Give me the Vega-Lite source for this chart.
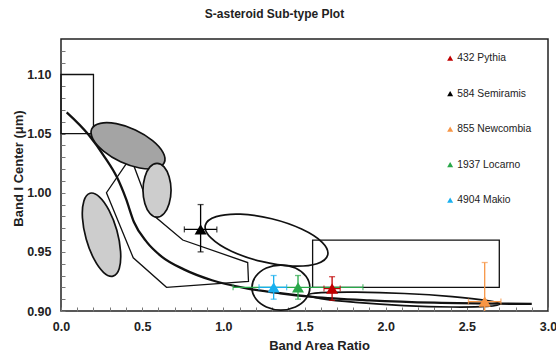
{
  "$schema": "https://vega.github.io/schema/vega-lite/v6.json",
  "width": 487,
  "height": 272,
  "autosize": "none",
  "padding": {"left": 61, "top": 39, "right": 8, "bottom": 42},
  "background": "white",
  "title": {"text": "S-asteroid Sub-type Plot", "fontSize": 12, "font": "Liberation Sans", "fontWeight": "bold", "color": "#222", "anchor": "middle", "frame": "group", "dx": -30, "offset": 18},
  "config": {"view": {"stroke": "#222", "strokeWidth": 1.5}, "font": "Liberation Sans"},
  "datasets": {
    "rects": [
      {"x": 0, "x2": 0.2, "y": 1.05, "y2": 1.10},
      {"x": 1.55, "x2": 2.70, "y": 0.92, "y2": 0.96}
    ],
    "poly": [
      {"i": 0, "x": 0.41, "y": 1.026},
      {"i": 1, "x": 0.28, "y": 1.000},
      {"i": 2, "x": 0.445, "y": 0.945},
      {"i": 3, "x": 0.65, "y": 0.920},
      {"i": 4, "x": 1.155, "y": 0.925},
      {"i": 5, "x": 1.15, "y": 0.941},
      {"i": 6, "x": 0.75, "y": 0.960},
      {"i": 7, "x": 0.56, "y": 0.982},
      {"i": 8, "x": 0.44, "y": 1.026}
    ],
    "curve": [
      {"i": 0, "x": 0.035, "y": 1.068},
      {"i": 1, "x": 0.17, "y": 1.049},
      {"i": 2, "x": 0.27, "y": 1.030},
      {"i": 3, "x": 0.345, "y": 1.013},
      {"i": 4, "x": 0.40, "y": 0.995},
      {"i": 5, "x": 0.45, "y": 0.975},
      {"i": 6, "x": 0.53, "y": 0.958},
      {"i": 7, "x": 0.62, "y": 0.946},
      {"i": 8, "x": 0.76, "y": 0.935},
      {"i": 9, "x": 0.93, "y": 0.926},
      {"i": 10, "x": 1.15, "y": 0.919},
      {"i": 11, "x": 1.35, "y": 0.915},
      {"i": 12, "x": 1.55, "y": 0.912},
      {"i": 13, "x": 1.9, "y": 0.909},
      {"i": 14, "x": 2.3, "y": 0.907},
      {"i": 15, "x": 2.9, "y": 0.906}
    ],
    "hatchDark": [
      {"s": "e1", "i": 0, "x": 0.636, "y": 1.0254},
      {"s": "e1", "i": 1, "x": 0.583, "y": 1.0206},
      {"s": "e1", "i": 2, "x": 0.485, "y": 1.0209},
      {"s": "e1", "i": 3, "x": 0.367, "y": 1.0262},
      {"s": "e1", "i": 4, "x": 0.262, "y": 1.0352},
      {"s": "e1", "i": 5, "x": 0.197, "y": 1.0453},
      {"s": "e1", "i": 6, "x": 0.189, "y": 1.0539},
      {"s": "e1", "i": 7, "x": 0.242, "y": 1.0587},
      {"s": "e1", "i": 8, "x": 0.341, "y": 1.0584},
      {"s": "e1", "i": 9, "x": 0.458, "y": 1.0531},
      {"s": "e1", "i": 10, "x": 0.564, "y": 1.0441},
      {"s": "e1", "i": 11, "x": 0.629, "y": 1.0340}
    ],
    "hatchLight": [
      {"s": "e2", "i": 0, "x": 0.678, "y": 1.0021},
      {"s": "e2", "i": 1, "x": 0.666, "y": 0.9907},
      {"s": "e2", "i": 2, "x": 0.635, "y": 0.9824},
      {"s": "e2", "i": 3, "x": 0.5915, "y": 0.9793},
      {"s": "e2", "i": 4, "x": 0.548, "y": 0.9824},
      {"s": "e2", "i": 5, "x": 0.517, "y": 0.9907},
      {"s": "e2", "i": 6, "x": 0.505, "y": 1.0021},
      {"s": "e2", "i": 7, "x": 0.517, "y": 1.0135},
      {"s": "e2", "i": 8, "x": 0.548, "y": 1.0219},
      {"s": "e2", "i": 9, "x": 0.5915, "y": 1.0249},
      {"s": "e2", "i": 10, "x": 0.635, "y": 1.0219},
      {"s": "e2", "i": 11, "x": 0.666, "y": 1.0135},
      {"s": "e3", "i": 0, "x": 0.320, "y": 0.9295},
      {"s": "e3", "i": 1, "x": 0.263, "y": 0.9325},
      {"s": "e3", "i": 2, "x": 0.203, "y": 0.9440},
      {"s": "e3", "i": 3, "x": 0.155, "y": 0.9609},
      {"s": "e3", "i": 4, "x": 0.132, "y": 0.9789},
      {"s": "e3", "i": 5, "x": 0.141, "y": 0.9931},
      {"s": "e3", "i": 6, "x": 0.179, "y": 0.9996},
      {"s": "e3", "i": 7, "x": 0.236, "y": 0.9966},
      {"s": "e3", "i": 8, "x": 0.296, "y": 0.9851},
      {"s": "e3", "i": 9, "x": 0.344, "y": 0.9682},
      {"s": "e3", "i": 10, "x": 0.367, "y": 0.9502},
      {"s": "e3", "i": 11, "x": 0.359, "y": 0.9360}
    ],
    "openEll": [
      {"s": "c", "i": 0, "x": 1.533, "y": 0.9198},
      {"s": "c", "i": 1, "x": 1.509, "y": 0.9103},
      {"s": "c", "i": 2, "x": 1.444, "y": 0.9034},
      {"s": "c", "i": 3, "x": 1.354, "y": 0.9008},
      {"s": "c", "i": 4, "x": 1.265, "y": 0.9034},
      {"s": "c", "i": 5, "x": 1.200, "y": 0.9103},
      {"s": "c", "i": 6, "x": 1.176, "y": 0.9198},
      {"s": "c", "i": 7, "x": 1.200, "y": 0.9293},
      {"s": "c", "i": 8, "x": 1.265, "y": 0.9363},
      {"s": "c", "i": 9, "x": 1.354, "y": 0.9388},
      {"s": "c", "i": 10, "x": 1.444, "y": 0.9363},
      {"s": "c", "i": 11, "x": 1.509, "y": 0.9293},
      {"s": "m", "i": 0, "x": 1.643, "y": 0.9473},
      {"s": "m", "i": 1, "x": 1.577, "y": 0.9400},
      {"s": "m", "i": 2, "x": 1.427, "y": 0.9380},
      {"s": "m", "i": 3, "x": 1.234, "y": 0.9419},
      {"s": "m", "i": 4, "x": 1.050, "y": 0.9505},
      {"s": "m", "i": 5, "x": 0.924, "y": 0.9618},
      {"s": "m", "i": 6, "x": 0.889, "y": 0.9725},
      {"s": "m", "i": 7, "x": 0.956, "y": 0.9798},
      {"s": "m", "i": 8, "x": 1.105, "y": 0.9819},
      {"s": "m", "i": 9, "x": 1.298, "y": 0.9780},
      {"s": "m", "i": 10, "x": 1.482, "y": 0.9693},
      {"s": "m", "i": 11, "x": 1.609, "y": 0.9581},
      {"s": "t", "i": 0, "x": 2.704, "y": 0.9059},
      {"s": "t", "i": 1, "x": 2.624, "y": 0.9039},
      {"s": "t", "i": 2, "x": 2.407, "y": 0.9034},
      {"s": "t", "i": 3, "x": 2.112, "y": 0.9046},
      {"s": "t", "i": 4, "x": 1.816, "y": 0.9073},
      {"s": "t", "i": 5, "x": 1.601, "y": 0.9105},
      {"s": "t", "i": 6, "x": 1.522, "y": 0.9135},
      {"s": "t", "i": 7, "x": 1.603, "y": 0.9155},
      {"s": "t", "i": 8, "x": 1.819, "y": 0.9160},
      {"s": "t", "i": 9, "x": 2.115, "y": 0.9148},
      {"s": "t", "i": 10, "x": 2.410, "y": 0.9122},
      {"s": "t", "i": 11, "x": 2.626, "y": 0.9089}
    ],
    "asteroids": [
      {"name": "432 Pythia", "x": 1.67, "y": 0.919, "xlo": 1.62, "xhi": 1.72, "ylo": 0.909, "yhi": 0.929},
      {"name": "584 Semiramis", "x": 0.86, "y": 0.969, "xlo": 0.76, "xhi": 0.96, "ylo": 0.95, "yhi": 0.99},
      {"name": "855 Newcombia", "x": 2.61, "y": 0.908, "xlo": 2.51, "xhi": 2.71, "ylo": 0.875, "yhi": 0.941},
      {"name": "1937 Locarno", "x": 1.46, "y": 0.920, "xlo": 1.06, "xhi": 1.86, "ylo": 0.910, "yhi": 0.930},
      {"name": "4904 Makio", "x": 1.31, "y": 0.920, "xlo": 1.22, "xhi": 1.39, "ylo": 0.910, "yhi": 0.930}
    ]
  },
  "layer": [
    {
      "data": {"name": "rects"},
      "mark": {"type": "rect", "filled": false, "color": "#111", "strokeWidth": 1.3},
      "encoding": {
        "x": {"field": "x", "type": "quantitative", "title": "Band Area Ratio", "scale": {"domain": [0, 3], "nice": false, "zero": false},
          "axis": {"values": [0, 0.1, 0.2, 0.3, 0.4, 0.5, 0.6, 0.7, 0.8, 0.9, 1, 1.1, 1.2, 1.3, 1.4, 1.5, 1.6, 1.7, 1.8, 1.9, 2, 2.1, 2.2, 2.3, 2.4, 2.5, 2.6, 2.7, 2.8, 2.9, 3], "labelExpr": "round(datum.value*10) % 5 == 0 ? format(datum.value, '.1f') : ''", "tickSize": -4, "tickColor": "#777", "tickWidth": 1, "domain": false, "grid": false, "labelFont": "Liberation Sans", "labelFontSize": 12.5, "labelFontWeight": "bold", "labelColor": "#222", "labelPadding": 13, "labelOverlap": false, "labelFlush": false, "titleFont": "Liberation Sans", "titleFontSize": 13, "titleFontWeight": "bold", "titleColor": "#222", "titleX": 258, "titleY": 34, "titleBaseline": "middle", "titleAlign": "center"}},
        "x2": {"field": "x2"},
        "y": {"field": "y", "type": "quantitative", "title": "Band I Center (μm)", "scale": {"domain": [0.9, 1.13], "nice": false, "zero": false},
          "axis": {"values": [0.9, 0.91, 0.92, 0.93, 0.94, 0.95, 0.96, 0.97, 0.98, 0.99, 1, 1.01, 1.02, 1.03, 1.04, 1.05, 1.06, 1.07, 1.08, 1.09, 1.1, 1.11, 1.12], "labelExpr": "round(datum.value*100) % 5 == 0 ? format(datum.value, '.2f') : ''", "tickSize": -4, "tickColor": "#777", "tickWidth": 1, "domain": false, "grid": false, "labelFont": "Liberation Sans", "labelFontSize": 12.5, "labelFontWeight": "bold", "labelColor": "#222", "labelPadding": 14, "labelOverlap": false, "labelFlush": false, "titleFont": "Liberation Sans", "titleFontSize": 13, "titleFontWeight": "bold", "titleColor": "#222", "titleX": -43, "titleY": 129, "titleAngle": -90, "titleBaseline": "middle", "titleAlign": "center"}},
        "y2": {"field": "y2"}
      }
    },
    {
      "data": {"name": "poly"},
      "mark": {"type": "line", "interpolate": "linear-closed", "color": "#111", "strokeWidth": 1.3},
      "encoding": {
        "x": {"field": "x", "type": "quantitative", "title": "Band Area Ratio", "axis": {"values": [0, 0.1, 0.2, 0.3, 0.4, 0.5, 0.6, 0.7, 0.8, 0.9, 1, 1.1, 1.2, 1.3, 1.4, 1.5, 1.6, 1.7, 1.8, 1.9, 2, 2.1, 2.2, 2.3, 2.4, 2.5, 2.6, 2.7, 2.8, 2.9, 3], "labelExpr": "round(datum.value*10) % 5 == 0 ? format(datum.value, '.1f') : ''", "tickSize": -4, "tickColor": "#777", "tickWidth": 1, "domain": false, "grid": false, "labelFont": "Liberation Sans", "labelFontSize": 12.5, "labelFontWeight": "bold", "labelColor": "#222", "labelPadding": 13, "labelOverlap": false, "labelFlush": false, "titleFont": "Liberation Sans", "titleFontSize": 13, "titleFontWeight": "bold", "titleColor": "#222", "titleX": 258, "titleY": 34, "titleBaseline": "middle", "titleAlign": "center"}},
        "y": {"field": "y", "type": "quantitative", "title": "Band I Center (μm)", "axis": {"values": [0.9, 0.91, 0.92, 0.93, 0.94, 0.95, 0.96, 0.97, 0.98, 0.99, 1, 1.01, 1.02, 1.03, 1.04, 1.05, 1.06, 1.07, 1.08, 1.09, 1.1, 1.11, 1.12], "labelExpr": "round(datum.value*100) % 5 == 0 ? format(datum.value, '.2f') : ''", "tickSize": -4, "tickColor": "#777", "tickWidth": 1, "domain": false, "grid": false, "labelFont": "Liberation Sans", "labelFontSize": 12.5, "labelFontWeight": "bold", "labelColor": "#222", "labelPadding": 14, "labelOverlap": false, "labelFlush": false, "titleFont": "Liberation Sans", "titleFontSize": 13, "titleFontWeight": "bold", "titleColor": "#222", "titleX": -43, "titleY": 129, "titleAngle": -90, "titleBaseline": "middle", "titleAlign": "center"}},
        "order": {"field": "i", "type": "quantitative"}
      }
    },
    {
      "data": {"name": "curve"},
      "mark": {"type": "line", "interpolate": "monotone", "color": "#111", "strokeWidth": 2.3},
      "encoding": {
        "x": {"field": "x", "type": "quantitative", "title": "Band Area Ratio", "axis": {"values": [0, 0.1, 0.2, 0.3, 0.4, 0.5, 0.6, 0.7, 0.8, 0.9, 1, 1.1, 1.2, 1.3, 1.4, 1.5, 1.6, 1.7, 1.8, 1.9, 2, 2.1, 2.2, 2.3, 2.4, 2.5, 2.6, 2.7, 2.8, 2.9, 3], "labelExpr": "round(datum.value*10) % 5 == 0 ? format(datum.value, '.1f') : ''", "tickSize": -4, "tickColor": "#777", "tickWidth": 1, "domain": false, "grid": false, "labelFont": "Liberation Sans", "labelFontSize": 12.5, "labelFontWeight": "bold", "labelColor": "#222", "labelPadding": 13, "labelOverlap": false, "labelFlush": false, "titleFont": "Liberation Sans", "titleFontSize": 13, "titleFontWeight": "bold", "titleColor": "#222", "titleX": 258, "titleY": 34, "titleBaseline": "middle", "titleAlign": "center"}},
        "y": {"field": "y", "type": "quantitative", "title": "Band I Center (μm)", "axis": {"values": [0.9, 0.91, 0.92, 0.93, 0.94, 0.95, 0.96, 0.97, 0.98, 0.99, 1, 1.01, 1.02, 1.03, 1.04, 1.05, 1.06, 1.07, 1.08, 1.09, 1.1, 1.11, 1.12], "labelExpr": "round(datum.value*100) % 5 == 0 ? format(datum.value, '.2f') : ''", "tickSize": -4, "tickColor": "#777", "tickWidth": 1, "domain": false, "grid": false, "labelFont": "Liberation Sans", "labelFontSize": 12.5, "labelFontWeight": "bold", "labelColor": "#222", "labelPadding": 14, "labelOverlap": false, "labelFlush": false, "titleFont": "Liberation Sans", "titleFontSize": 13, "titleFontWeight": "bold", "titleColor": "#222", "titleX": -43, "titleY": 129, "titleAngle": -90, "titleBaseline": "middle", "titleAlign": "center"}},
        "order": {"field": "i", "type": "quantitative"}
      }
    },
    {
      "data": {"name": "hatchDark"},
      "mark": {"type": "line", "interpolate": "cardinal-closed", "color": "#111", "fill": "#a4a4a4", "strokeWidth": 1.7},
      "encoding": {
        "x": {"field": "x", "type": "quantitative", "title": "Band Area Ratio", "axis": {"values": [0, 0.1, 0.2, 0.3, 0.4, 0.5, 0.6, 0.7, 0.8, 0.9, 1, 1.1, 1.2, 1.3, 1.4, 1.5, 1.6, 1.7, 1.8, 1.9, 2, 2.1, 2.2, 2.3, 2.4, 2.5, 2.6, 2.7, 2.8, 2.9, 3], "labelExpr": "round(datum.value*10) % 5 == 0 ? format(datum.value, '.1f') : ''", "tickSize": -4, "tickColor": "#777", "tickWidth": 1, "domain": false, "grid": false, "labelFont": "Liberation Sans", "labelFontSize": 12.5, "labelFontWeight": "bold", "labelColor": "#222", "labelPadding": 13, "labelOverlap": false, "labelFlush": false, "titleFont": "Liberation Sans", "titleFontSize": 13, "titleFontWeight": "bold", "titleColor": "#222", "titleX": 258, "titleY": 34, "titleBaseline": "middle", "titleAlign": "center"}},
        "y": {"field": "y", "type": "quantitative", "title": "Band I Center (μm)", "axis": {"values": [0.9, 0.91, 0.92, 0.93, 0.94, 0.95, 0.96, 0.97, 0.98, 0.99, 1, 1.01, 1.02, 1.03, 1.04, 1.05, 1.06, 1.07, 1.08, 1.09, 1.1, 1.11, 1.12], "labelExpr": "round(datum.value*100) % 5 == 0 ? format(datum.value, '.2f') : ''", "tickSize": -4, "tickColor": "#777", "tickWidth": 1, "domain": false, "grid": false, "labelFont": "Liberation Sans", "labelFontSize": 12.5, "labelFontWeight": "bold", "labelColor": "#222", "labelPadding": 14, "labelOverlap": false, "labelFlush": false, "titleFont": "Liberation Sans", "titleFontSize": 13, "titleFontWeight": "bold", "titleColor": "#222", "titleX": -43, "titleY": 129, "titleAngle": -90, "titleBaseline": "middle", "titleAlign": "center"}},
        "detail": {"field": "s"},
        "order": {"field": "i", "type": "quantitative"}
      }
    },
    {
      "data": {"name": "hatchLight"},
      "mark": {"type": "line", "interpolate": "cardinal-closed", "color": "#111", "fill": "#cdcdcd", "strokeWidth": 1.7},
      "encoding": {
        "x": {"field": "x", "type": "quantitative", "title": "Band Area Ratio", "axis": {"values": [0, 0.1, 0.2, 0.3, 0.4, 0.5, 0.6, 0.7, 0.8, 0.9, 1, 1.1, 1.2, 1.3, 1.4, 1.5, 1.6, 1.7, 1.8, 1.9, 2, 2.1, 2.2, 2.3, 2.4, 2.5, 2.6, 2.7, 2.8, 2.9, 3], "labelExpr": "round(datum.value*10) % 5 == 0 ? format(datum.value, '.1f') : ''", "tickSize": -4, "tickColor": "#777", "tickWidth": 1, "domain": false, "grid": false, "labelFont": "Liberation Sans", "labelFontSize": 12.5, "labelFontWeight": "bold", "labelColor": "#222", "labelPadding": 13, "labelOverlap": false, "labelFlush": false, "titleFont": "Liberation Sans", "titleFontSize": 13, "titleFontWeight": "bold", "titleColor": "#222", "titleX": 258, "titleY": 34, "titleBaseline": "middle", "titleAlign": "center"}},
        "y": {"field": "y", "type": "quantitative", "title": "Band I Center (μm)", "axis": {"values": [0.9, 0.91, 0.92, 0.93, 0.94, 0.95, 0.96, 0.97, 0.98, 0.99, 1, 1.01, 1.02, 1.03, 1.04, 1.05, 1.06, 1.07, 1.08, 1.09, 1.1, 1.11, 1.12], "labelExpr": "round(datum.value*100) % 5 == 0 ? format(datum.value, '.2f') : ''", "tickSize": -4, "tickColor": "#777", "tickWidth": 1, "domain": false, "grid": false, "labelFont": "Liberation Sans", "labelFontSize": 12.5, "labelFontWeight": "bold", "labelColor": "#222", "labelPadding": 14, "labelOverlap": false, "labelFlush": false, "titleFont": "Liberation Sans", "titleFontSize": 13, "titleFontWeight": "bold", "titleColor": "#222", "titleX": -43, "titleY": 129, "titleAngle": -90, "titleBaseline": "middle", "titleAlign": "center"}},
        "detail": {"field": "s"},
        "order": {"field": "i", "type": "quantitative"}
      }
    },
    {
      "data": {"name": "openEll"},
      "mark": {"type": "line", "interpolate": "cardinal-closed", "color": "#111", "strokeWidth": 1.7},
      "encoding": {
        "x": {"field": "x", "type": "quantitative", "title": "Band Area Ratio", "axis": {"values": [0, 0.1, 0.2, 0.3, 0.4, 0.5, 0.6, 0.7, 0.8, 0.9, 1, 1.1, 1.2, 1.3, 1.4, 1.5, 1.6, 1.7, 1.8, 1.9, 2, 2.1, 2.2, 2.3, 2.4, 2.5, 2.6, 2.7, 2.8, 2.9, 3], "labelExpr": "round(datum.value*10) % 5 == 0 ? format(datum.value, '.1f') : ''", "tickSize": -4, "tickColor": "#777", "tickWidth": 1, "domain": false, "grid": false, "labelFont": "Liberation Sans", "labelFontSize": 12.5, "labelFontWeight": "bold", "labelColor": "#222", "labelPadding": 13, "labelOverlap": false, "labelFlush": false, "titleFont": "Liberation Sans", "titleFontSize": 13, "titleFontWeight": "bold", "titleColor": "#222", "titleX": 258, "titleY": 34, "titleBaseline": "middle", "titleAlign": "center"}},
        "y": {"field": "y", "type": "quantitative", "title": "Band I Center (μm)", "axis": {"values": [0.9, 0.91, 0.92, 0.93, 0.94, 0.95, 0.96, 0.97, 0.98, 0.99, 1, 1.01, 1.02, 1.03, 1.04, 1.05, 1.06, 1.07, 1.08, 1.09, 1.1, 1.11, 1.12], "labelExpr": "round(datum.value*100) % 5 == 0 ? format(datum.value, '.2f') : ''", "tickSize": -4, "tickColor": "#777", "tickWidth": 1, "domain": false, "grid": false, "labelFont": "Liberation Sans", "labelFontSize": 12.5, "labelFontWeight": "bold", "labelColor": "#222", "labelPadding": 14, "labelOverlap": false, "labelFlush": false, "titleFont": "Liberation Sans", "titleFontSize": 13, "titleFontWeight": "bold", "titleColor": "#222", "titleX": -43, "titleY": 129, "titleAngle": -90, "titleBaseline": "middle", "titleAlign": "center"}},
        "detail": {"field": "s"},
        "order": {"field": "i", "type": "quantitative"}
      }
    },
    {
      "data": {"name": "asteroids"},
      "mark": {"type": "rule", "strokeWidth": 1.3, "clip": true},
      "encoding": {
        "x": {"field": "xlo", "type": "quantitative", "title": "Band Area Ratio", "axis": {"values": [0, 0.1, 0.2, 0.3, 0.4, 0.5, 0.6, 0.7, 0.8, 0.9, 1, 1.1, 1.2, 1.3, 1.4, 1.5, 1.6, 1.7, 1.8, 1.9, 2, 2.1, 2.2, 2.3, 2.4, 2.5, 2.6, 2.7, 2.8, 2.9, 3], "labelExpr": "round(datum.value*10) % 5 == 0 ? format(datum.value, '.1f') : ''", "tickSize": -4, "tickColor": "#777", "tickWidth": 1, "domain": false, "grid": false, "labelFont": "Liberation Sans", "labelFontSize": 12.5, "labelFontWeight": "bold", "labelColor": "#222", "labelPadding": 13, "labelOverlap": false, "labelFlush": false, "titleFont": "Liberation Sans", "titleFontSize": 13, "titleFontWeight": "bold", "titleColor": "#222", "titleX": 258, "titleY": 34, "titleBaseline": "middle", "titleAlign": "center"}},
        "x2": {"field": "xhi"},
        "y": {"field": "y", "type": "quantitative", "title": "Band I Center (μm)", "axis": {"values": [0.9, 0.91, 0.92, 0.93, 0.94, 0.95, 0.96, 0.97, 0.98, 0.99, 1, 1.01, 1.02, 1.03, 1.04, 1.05, 1.06, 1.07, 1.08, 1.09, 1.1, 1.11, 1.12], "labelExpr": "round(datum.value*100) % 5 == 0 ? format(datum.value, '.2f') : ''", "tickSize": -4, "tickColor": "#777", "tickWidth": 1, "domain": false, "grid": false, "labelFont": "Liberation Sans", "labelFontSize": 12.5, "labelFontWeight": "bold", "labelColor": "#222", "labelPadding": 14, "labelOverlap": false, "labelFlush": false, "titleFont": "Liberation Sans", "titleFontSize": 13, "titleFontWeight": "bold", "titleColor": "#222", "titleX": -43, "titleY": 129, "titleAngle": -90, "titleBaseline": "middle", "titleAlign": "center"}},
        "stroke": {"field": "name", "type": "nominal", "legend": null,
          "scale": {"domain": ["4904 Makio", "1937 Locarno", "855 Newcombia", "584 Semiramis", "432 Pythia"], "range": ["#1ab0ef", "#2aa84a", "#f79646", "#000000", "#c00000"]}}
      }
    },
    {
      "data": {"name": "asteroids"},
      "mark": {"type": "rule", "strokeWidth": 1.3, "clip": true},
      "encoding": {
        "x": {"field": "x", "type": "quantitative", "title": "Band Area Ratio", "axis": {"values": [0, 0.1, 0.2, 0.3, 0.4, 0.5, 0.6, 0.7, 0.8, 0.9, 1, 1.1, 1.2, 1.3, 1.4, 1.5, 1.6, 1.7, 1.8, 1.9, 2, 2.1, 2.2, 2.3, 2.4, 2.5, 2.6, 2.7, 2.8, 2.9, 3], "labelExpr": "round(datum.value*10) % 5 == 0 ? format(datum.value, '.1f') : ''", "tickSize": -4, "tickColor": "#777", "tickWidth": 1, "domain": false, "grid": false, "labelFont": "Liberation Sans", "labelFontSize": 12.5, "labelFontWeight": "bold", "labelColor": "#222", "labelPadding": 13, "labelOverlap": false, "labelFlush": false, "titleFont": "Liberation Sans", "titleFontSize": 13, "titleFontWeight": "bold", "titleColor": "#222", "titleX": 258, "titleY": 34, "titleBaseline": "middle", "titleAlign": "center"}},
        "y": {"field": "ylo", "type": "quantitative", "title": "Band I Center (μm)", "axis": {"values": [0.9, 0.91, 0.92, 0.93, 0.94, 0.95, 0.96, 0.97, 0.98, 0.99, 1, 1.01, 1.02, 1.03, 1.04, 1.05, 1.06, 1.07, 1.08, 1.09, 1.1, 1.11, 1.12], "labelExpr": "round(datum.value*100) % 5 == 0 ? format(datum.value, '.2f') : ''", "tickSize": -4, "tickColor": "#777", "tickWidth": 1, "domain": false, "grid": false, "labelFont": "Liberation Sans", "labelFontSize": 12.5, "labelFontWeight": "bold", "labelColor": "#222", "labelPadding": 14, "labelOverlap": false, "labelFlush": false, "titleFont": "Liberation Sans", "titleFontSize": 13, "titleFontWeight": "bold", "titleColor": "#222", "titleX": -43, "titleY": 129, "titleAngle": -90, "titleBaseline": "middle", "titleAlign": "center"}},
        "y2": {"field": "yhi"},
        "stroke": {"field": "name", "type": "nominal", "legend": null,
          "scale": {"domain": ["4904 Makio", "1937 Locarno", "855 Newcombia", "584 Semiramis", "432 Pythia"], "range": ["#1ab0ef", "#2aa84a", "#f79646", "#000000", "#c00000"]}}
      }
    },
    {
      "data": {"name": "asteroids"},
      "mark": {"type": "tick", "orient": "horizontal", "size": 6, "thickness": 1.3, "clip": true},
      "encoding": {
        "x": {"field": "x", "type": "quantitative", "title": "Band Area Ratio", "axis": {"values": [0, 0.1, 0.2, 0.3, 0.4, 0.5, 0.6, 0.7, 0.8, 0.9, 1, 1.1, 1.2, 1.3, 1.4, 1.5, 1.6, 1.7, 1.8, 1.9, 2, 2.1, 2.2, 2.3, 2.4, 2.5, 2.6, 2.7, 2.8, 2.9, 3], "labelExpr": "round(datum.value*10) % 5 == 0 ? format(datum.value, '.1f') : ''", "tickSize": -4, "tickColor": "#777", "tickWidth": 1, "domain": false, "grid": false, "labelFont": "Liberation Sans", "labelFontSize": 12.5, "labelFontWeight": "bold", "labelColor": "#222", "labelPadding": 13, "labelOverlap": false, "labelFlush": false, "titleFont": "Liberation Sans", "titleFontSize": 13, "titleFontWeight": "bold", "titleColor": "#222", "titleX": 258, "titleY": 34, "titleBaseline": "middle", "titleAlign": "center"}},
        "y": {"field": "ylo", "type": "quantitative", "title": "Band I Center (μm)", "axis": {"values": [0.9, 0.91, 0.92, 0.93, 0.94, 0.95, 0.96, 0.97, 0.98, 0.99, 1, 1.01, 1.02, 1.03, 1.04, 1.05, 1.06, 1.07, 1.08, 1.09, 1.1, 1.11, 1.12], "labelExpr": "round(datum.value*100) % 5 == 0 ? format(datum.value, '.2f') : ''", "tickSize": -4, "tickColor": "#777", "tickWidth": 1, "domain": false, "grid": false, "labelFont": "Liberation Sans", "labelFontSize": 12.5, "labelFontWeight": "bold", "labelColor": "#222", "labelPadding": 14, "labelOverlap": false, "labelFlush": false, "titleFont": "Liberation Sans", "titleFontSize": 13, "titleFontWeight": "bold", "titleColor": "#222", "titleX": -43, "titleY": 129, "titleAngle": -90, "titleBaseline": "middle", "titleAlign": "center"}},
        "fill": {"field": "name", "type": "nominal", "legend": null,
          "scale": {"domain": ["584 Semiramis", "432 Pythia", "4904 Makio", "1937 Locarno", "855 Newcombia"], "range": ["#000000", "#c00000", "#1ab0ef", "#2aa84a", "#f79646"]}}
      }
    },
    {
      "data": {"name": "asteroids"},
      "mark": {"type": "tick", "orient": "horizontal", "size": 6, "thickness": 1.3, "clip": true},
      "encoding": {
        "x": {"field": "x", "type": "quantitative", "title": "Band Area Ratio", "axis": {"values": [0, 0.1, 0.2, 0.3, 0.4, 0.5, 0.6, 0.7, 0.8, 0.9, 1, 1.1, 1.2, 1.3, 1.4, 1.5, 1.6, 1.7, 1.8, 1.9, 2, 2.1, 2.2, 2.3, 2.4, 2.5, 2.6, 2.7, 2.8, 2.9, 3], "labelExpr": "round(datum.value*10) % 5 == 0 ? format(datum.value, '.1f') : ''", "tickSize": -4, "tickColor": "#777", "tickWidth": 1, "domain": false, "grid": false, "labelFont": "Liberation Sans", "labelFontSize": 12.5, "labelFontWeight": "bold", "labelColor": "#222", "labelPadding": 13, "labelOverlap": false, "labelFlush": false, "titleFont": "Liberation Sans", "titleFontSize": 13, "titleFontWeight": "bold", "titleColor": "#222", "titleX": 258, "titleY": 34, "titleBaseline": "middle", "titleAlign": "center"}},
        "y": {"field": "yhi", "type": "quantitative", "title": "Band I Center (μm)", "axis": {"values": [0.9, 0.91, 0.92, 0.93, 0.94, 0.95, 0.96, 0.97, 0.98, 0.99, 1, 1.01, 1.02, 1.03, 1.04, 1.05, 1.06, 1.07, 1.08, 1.09, 1.1, 1.11, 1.12], "labelExpr": "round(datum.value*100) % 5 == 0 ? format(datum.value, '.2f') : ''", "tickSize": -4, "tickColor": "#777", "tickWidth": 1, "domain": false, "grid": false, "labelFont": "Liberation Sans", "labelFontSize": 12.5, "labelFontWeight": "bold", "labelColor": "#222", "labelPadding": 14, "labelOverlap": false, "labelFlush": false, "titleFont": "Liberation Sans", "titleFontSize": 13, "titleFontWeight": "bold", "titleColor": "#222", "titleX": -43, "titleY": 129, "titleAngle": -90, "titleBaseline": "middle", "titleAlign": "center"}},
        "fill": {"field": "name", "type": "nominal", "legend": null,
          "scale": {"domain": ["584 Semiramis", "432 Pythia", "4904 Makio", "1937 Locarno", "855 Newcombia"], "range": ["#000000", "#c00000", "#1ab0ef", "#2aa84a", "#f79646"]}}
      }
    },
    {
      "data": {"name": "asteroids"},
      "mark": {"type": "tick", "orient": "vertical", "size": 6, "thickness": 1.3, "clip": true},
      "encoding": {
        "x": {"field": "xlo", "type": "quantitative", "title": "Band Area Ratio", "axis": {"values": [0, 0.1, 0.2, 0.3, 0.4, 0.5, 0.6, 0.7, 0.8, 0.9, 1, 1.1, 1.2, 1.3, 1.4, 1.5, 1.6, 1.7, 1.8, 1.9, 2, 2.1, 2.2, 2.3, 2.4, 2.5, 2.6, 2.7, 2.8, 2.9, 3], "labelExpr": "round(datum.value*10) % 5 == 0 ? format(datum.value, '.1f') : ''", "tickSize": -4, "tickColor": "#777", "tickWidth": 1, "domain": false, "grid": false, "labelFont": "Liberation Sans", "labelFontSize": 12.5, "labelFontWeight": "bold", "labelColor": "#222", "labelPadding": 13, "labelOverlap": false, "labelFlush": false, "titleFont": "Liberation Sans", "titleFontSize": 13, "titleFontWeight": "bold", "titleColor": "#222", "titleX": 258, "titleY": 34, "titleBaseline": "middle", "titleAlign": "center"}},
        "y": {"field": "y", "type": "quantitative", "title": "Band I Center (μm)", "axis": {"values": [0.9, 0.91, 0.92, 0.93, 0.94, 0.95, 0.96, 0.97, 0.98, 0.99, 1, 1.01, 1.02, 1.03, 1.04, 1.05, 1.06, 1.07, 1.08, 1.09, 1.1, 1.11, 1.12], "labelExpr": "round(datum.value*100) % 5 == 0 ? format(datum.value, '.2f') : ''", "tickSize": -4, "tickColor": "#777", "tickWidth": 1, "domain": false, "grid": false, "labelFont": "Liberation Sans", "labelFontSize": 12.5, "labelFontWeight": "bold", "labelColor": "#222", "labelPadding": 14, "labelOverlap": false, "labelFlush": false, "titleFont": "Liberation Sans", "titleFontSize": 13, "titleFontWeight": "bold", "titleColor": "#222", "titleX": -43, "titleY": 129, "titleAngle": -90, "titleBaseline": "middle", "titleAlign": "center"}},
        "fill": {"field": "name", "type": "nominal", "legend": null,
          "scale": {"domain": ["584 Semiramis", "432 Pythia", "4904 Makio", "1937 Locarno", "855 Newcombia"], "range": ["#000000", "#c00000", "#1ab0ef", "#2aa84a", "#f79646"]}}
      }
    },
    {
      "data": {"name": "asteroids"},
      "mark": {"type": "tick", "orient": "vertical", "size": 6, "thickness": 1.3, "clip": true},
      "encoding": {
        "x": {"field": "xhi", "type": "quantitative", "title": "Band Area Ratio", "axis": {"values": [0, 0.1, 0.2, 0.3, 0.4, 0.5, 0.6, 0.7, 0.8, 0.9, 1, 1.1, 1.2, 1.3, 1.4, 1.5, 1.6, 1.7, 1.8, 1.9, 2, 2.1, 2.2, 2.3, 2.4, 2.5, 2.6, 2.7, 2.8, 2.9, 3], "labelExpr": "round(datum.value*10) % 5 == 0 ? format(datum.value, '.1f') : ''", "tickSize": -4, "tickColor": "#777", "tickWidth": 1, "domain": false, "grid": false, "labelFont": "Liberation Sans", "labelFontSize": 12.5, "labelFontWeight": "bold", "labelColor": "#222", "labelPadding": 13, "labelOverlap": false, "labelFlush": false, "titleFont": "Liberation Sans", "titleFontSize": 13, "titleFontWeight": "bold", "titleColor": "#222", "titleX": 258, "titleY": 34, "titleBaseline": "middle", "titleAlign": "center"}},
        "y": {"field": "y", "type": "quantitative", "title": "Band I Center (μm)", "axis": {"values": [0.9, 0.91, 0.92, 0.93, 0.94, 0.95, 0.96, 0.97, 0.98, 0.99, 1, 1.01, 1.02, 1.03, 1.04, 1.05, 1.06, 1.07, 1.08, 1.09, 1.1, 1.11, 1.12], "labelExpr": "round(datum.value*100) % 5 == 0 ? format(datum.value, '.2f') : ''", "tickSize": -4, "tickColor": "#777", "tickWidth": 1, "domain": false, "grid": false, "labelFont": "Liberation Sans", "labelFontSize": 12.5, "labelFontWeight": "bold", "labelColor": "#222", "labelPadding": 14, "labelOverlap": false, "labelFlush": false, "titleFont": "Liberation Sans", "titleFontSize": 13, "titleFontWeight": "bold", "titleColor": "#222", "titleX": -43, "titleY": 129, "titleAngle": -90, "titleBaseline": "middle", "titleAlign": "center"}},
        "fill": {"field": "name", "type": "nominal", "legend": null,
          "scale": {"domain": ["584 Semiramis", "432 Pythia", "4904 Makio", "1937 Locarno", "855 Newcombia"], "range": ["#000000", "#c00000", "#1ab0ef", "#2aa84a", "#f79646"]}}
      }
    },
    {
      "data": {"name": "asteroids"},
      "mark": {"type": "point", "shape": "triangle-up", "filled": true, "size": 144, "opacity": 1},
      "encoding": {
        "x": {"field": "x", "type": "quantitative", "title": "Band Area Ratio", "axis": {"values": [0, 0.1, 0.2, 0.3, 0.4, 0.5, 0.6, 0.7, 0.8, 0.9, 1, 1.1, 1.2, 1.3, 1.4, 1.5, 1.6, 1.7, 1.8, 1.9, 2, 2.1, 2.2, 2.3, 2.4, 2.5, 2.6, 2.7, 2.8, 2.9, 3], "labelExpr": "round(datum.value*10) % 5 == 0 ? format(datum.value, '.1f') : ''", "tickSize": -4, "tickColor": "#777", "tickWidth": 1, "domain": false, "grid": false, "labelFont": "Liberation Sans", "labelFontSize": 12.5, "labelFontWeight": "bold", "labelColor": "#222", "labelPadding": 13, "labelOverlap": false, "labelFlush": false, "titleFont": "Liberation Sans", "titleFontSize": 13, "titleFontWeight": "bold", "titleColor": "#222", "titleX": 258, "titleY": 34, "titleBaseline": "middle", "titleAlign": "center"}},
        "y": {"field": "y", "type": "quantitative", "title": "Band I Center (μm)", "axis": {"values": [0.9, 0.91, 0.92, 0.93, 0.94, 0.95, 0.96, 0.97, 0.98, 0.99, 1, 1.01, 1.02, 1.03, 1.04, 1.05, 1.06, 1.07, 1.08, 1.09, 1.1, 1.11, 1.12], "labelExpr": "round(datum.value*100) % 5 == 0 ? format(datum.value, '.2f') : ''", "tickSize": -4, "tickColor": "#777", "tickWidth": 1, "domain": false, "grid": false, "labelFont": "Liberation Sans", "labelFontSize": 12.5, "labelFontWeight": "bold", "labelColor": "#222", "labelPadding": 14, "labelOverlap": false, "labelFlush": false, "titleFont": "Liberation Sans", "titleFontSize": 13, "titleFontWeight": "bold", "titleColor": "#222", "titleX": -43, "titleY": 129, "titleAngle": -90, "titleBaseline": "middle", "titleAlign": "center"}},
        "color": {"field": "name", "type": "nominal",
          "scale": {"domain": ["432 Pythia", "584 Semiramis", "855 Newcombia", "1937 Locarno", "4904 Makio"],
                    "range": ["#c00000", "#000000", "#f79646", "#2aa84a", "#1ab0ef"]},
          "legend": {"title": null, "orient": "none", "legendX": 384, "legendY": 14, "symbolType": "triangle-up", "symbolSize": 36,
            "labelFontSize": 10.3, "labelFont": "Liberation Sans", "labelColor": "#222", "rowPadding": 24.5, "labelOffset": 2, "padding": 0, "symbolStrokeWidth": 0, "symbolOpacity": 1}}
      }
    }
  ]
}
